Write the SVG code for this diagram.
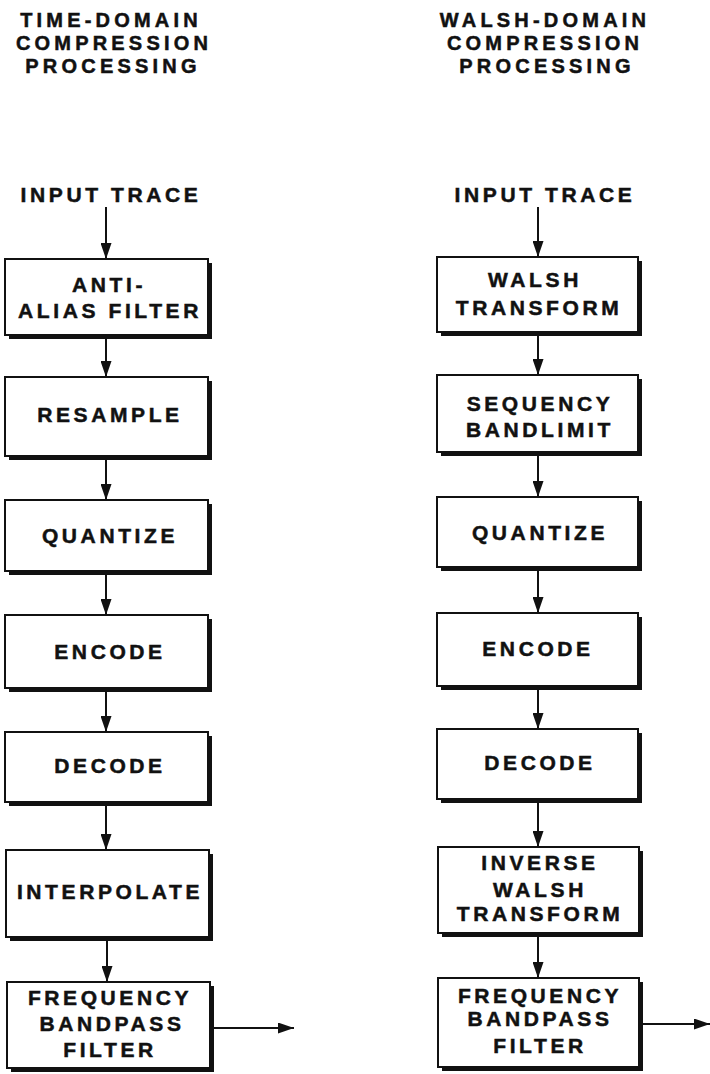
<svg xmlns="http://www.w3.org/2000/svg" width="710" height="1074" viewBox="0 0 710 1074">
<style>
text{font-family:"Liberation Sans",Arial,sans-serif;font-weight:bold;font-size:21px;letter-spacing:3.6px;fill:#111;stroke:#111;stroke-width:0.5;text-anchor:middle}
.title{font-size:20px;letter-spacing:4.2px}
.shadow{fill:#111}
.box{fill:#fff;stroke:#111;stroke-width:2}
.conn{stroke:#111;stroke-width:2;fill:none;marker-end:url(#arr)}
</style>
<defs>
<marker id="arr" markerUnits="userSpaceOnUse" markerWidth="16" markerHeight="11" refX="16" refY="5.5" orient="auto">
<path d="M0,0 L16,5.5 L0,11 z" fill="#111"/>
</marker>
</defs>
<rect width="710" height="1074" fill="#fff"/>
<g id="title-left">
<text class="title" x="111" y="27">TIME-DOMAIN</text>
<text class="title" x="114" y="50">COMPRESSION</text>
<text class="title" x="113" y="73">PROCESSING</text>
</g>
<g id="title-right">
<text class="title" x="545" y="27">WALSH-DOMAIN</text>
<text class="title" x="545" y="50">COMPRESSION</text>
<text class="title" x="547" y="73">PROCESSING</text>
</g>
<g id="input-left"><text x="111" y="202">INPUT TRACE</text></g>
<g id="input-right"><text x="545" y="202">INPUT TRACE</text></g>
<g id="L1"><rect class="shadow" x="9" y="263" width="203" height="76"/><rect class="box" x="5" y="259" width="203" height="76"/><text x="109" y="292">ANTI-</text><text x="110" y="318">ALIAS FILTER</text></g>
<g id="L2"><rect class="shadow" x="9" y="381" width="203" height="79"/><rect class="box" x="5" y="377" width="203" height="79"/><text x="110" y="422">RESAMPLE</text></g>
<g id="L3"><rect class="shadow" x="9" y="504" width="203" height="71"/><rect class="box" x="5" y="500" width="203" height="71"/><text x="110" y="543">QUANTIZE</text></g>
<g id="L4"><rect class="shadow" x="9" y="619" width="203" height="73"/><rect class="box" x="5" y="615" width="203" height="73"/><text x="110" y="659">ENCODE</text></g>
<g id="L5"><rect class="shadow" x="9" y="736" width="203" height="70"/><rect class="box" x="5" y="732" width="203" height="70"/><text x="110" y="773">DECODE</text></g>
<g id="L6"><rect class="shadow" x="10" y="854" width="203" height="87"/><rect class="box" x="6" y="850" width="203" height="87"/><text x="110" y="899">INTERPOLATE</text></g>
<g id="L7"><rect class="shadow" x="11" y="986" width="203" height="86"/><rect class="box" x="7" y="982" width="203" height="86"/><text x="110" y="1005">FREQUENCY</text><text x="112" y="1031">BANDPASS</text><text x="110" y="1057">FILTER</text></g>
<g id="R1"><rect class="shadow" x="441" y="261" width="201" height="75"/><rect class="box" x="437" y="257" width="201" height="75"/><text x="535" y="287">WALSH</text><text x="539" y="315">TRANSFORM</text></g>
<g id="R2"><rect class="shadow" x="441" y="379" width="201" height="77"/><rect class="box" x="437" y="375" width="201" height="77"/><text x="540" y="411">SEQUENCY</text><text x="540" y="437">BANDLIMIT</text></g>
<g id="R3"><rect class="shadow" x="441" y="501" width="201" height="70"/><rect class="box" x="437" y="497" width="201" height="70"/><text x="540" y="540">QUANTIZE</text></g>
<g id="R4"><rect class="shadow" x="441" y="617" width="201" height="73"/><rect class="box" x="437" y="613" width="201" height="73"/><text x="538" y="656">ENCODE</text></g>
<g id="R5"><rect class="shadow" x="441" y="733" width="201" height="70"/><rect class="box" x="437" y="729" width="201" height="70"/><text x="540" y="770">DECODE</text></g>
<g id="R6"><rect class="shadow" x="442" y="851" width="201" height="86"/><rect class="box" x="438" y="847" width="201" height="86"/><text x="540" y="870">INVERSE</text><text x="540" y="897">WALSH</text><text x="540" y="921">TRANSFORM</text></g>
<g id="R7"><rect class="shadow" x="442" y="982" width="201" height="89"/><rect class="box" x="438" y="978" width="201" height="89"/><text x="540" y="1003">FREQUENCY</text><text x="540" y="1026">BANDPASS</text><text x="540" y="1053">FILTER</text></g>
<g id="connectors">
<line class="conn" x1="106" y1="207" x2="106" y2="259"/>
<line class="conn" x1="106" y1="339" x2="106" y2="377"/>
<line class="conn" x1="106" y1="460" x2="106" y2="500"/>
<line class="conn" x1="106" y1="575" x2="106" y2="615"/>
<line class="conn" x1="106" y1="692" x2="106" y2="732"/>
<line class="conn" x1="106" y1="806" x2="106" y2="850"/>
<line class="conn" x1="107" y1="941" x2="107" y2="982"/>
<line class="conn" x1="214" y1="1028" x2="294" y2="1028"/>
<line class="conn" x1="538" y1="207" x2="538" y2="257"/>
<line class="conn" x1="538" y1="336" x2="538" y2="375"/>
<line class="conn" x1="538" y1="456" x2="538" y2="497"/>
<line class="conn" x1="538" y1="571" x2="538" y2="613"/>
<line class="conn" x1="538" y1="690" x2="538" y2="729"/>
<line class="conn" x1="538" y1="803" x2="538" y2="847"/>
<line class="conn" x1="538" y1="937" x2="538" y2="978"/>
<line class="conn" x1="643" y1="1024" x2="710" y2="1024"/>
</g>
</svg>
